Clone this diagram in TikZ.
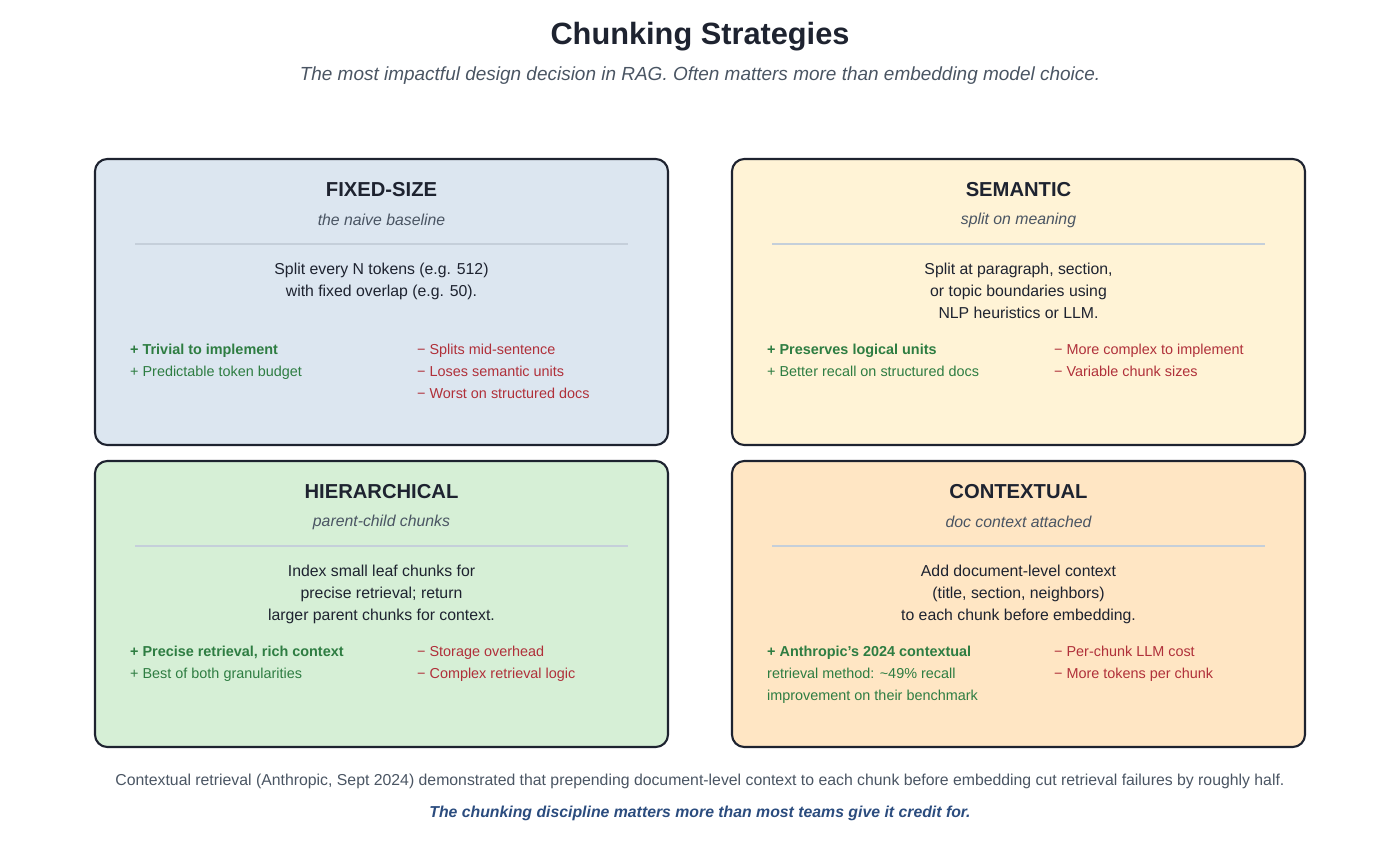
\documentclass[tikz,border=0pt]{standalone}
\usepackage{fontspec}
\setmainfont{Liberation Sans}
\usetikzlibrary{positioning}
\definecolor{ink}{HTML}{1E2330}
\definecolor{muted}{HTML}{4A5563}
\definecolor{rulec}{HTML}{C5CFDA}
\definecolor{fillfix}{HTML}{DCE6F0}
\definecolor{fillsem}{HTML}{FFF3D6}
\definecolor{fillhier}{HTML}{D6EFD6}
\definecolor{fillctx}{HTML}{FFE6C4}
\definecolor{procol}{HTML}{2E7D42}
\definecolor{concol}{HTML}{B0303A}
\definecolor{notecol}{HTML}{2B4C7E}
\tikzset{
	panel/.style={draw=ink, line width=1.2pt, rounded corners=7pt},
	panelhead/.style={font=\fontsize{11.5}{13}\selectfont\bfseries, text=ink},
	paneltag/.style={font=\fontsize{9}{11}\selectfont\itshape, text=muted},
	panelbody/.style={font=\fontsize{9}{12.5}\selectfont, text=ink, align=center, anchor=north},
	pro/.style={font=\fontsize{8.2}{12.5}\selectfont, text=procol, align=left, anchor=north west},
	con/.style={font=\fontsize{8.2}{12.5}\selectfont, text=concol, align=left, anchor=north west},
	seprule/.style={draw=rulec, line width=0.8pt}
}
\begin{document}
\begin{tikzpicture}[x=0.02cm, y=-0.02cm]
	\useasboundingbox (0,0) rectangle (1400,859);
	% Heading
	\node[font=\fontsize{17.5}{20}\selectfont\bfseries, text=ink] (title) at (700,37) {Chunking Strategies};
	\node[font=\fontsize{10.8}{13}\selectfont\itshape, text=muted] (subtitle) at (700,76) {The most impactful design decision in RAG. Often matters more than embedding model choice.};
	% Panels
	\draw[panel, fill=fillfix] (95,159) rectangle (668,445);
	\draw[panel, fill=fillsem] (732,159) rectangle (1305,445);
	\draw[panel, fill=fillhier] (95,461) rectangle (668,747);
	\draw[panel, fill=fillctx] (732,461) rectangle (1305,747);
	% Fixed-size
	\node[panelhead] (fixhead) at (381.5,190) {FIXED-SIZE};
	\node[paneltag] (fixtag) at (381.5,220) {the naive baseline};
	\draw[seprule] (135,244) -- (628,244);
	\node[panelbody] (fixbody) at (381.5,257) {Split every N tokens (e.g. 512)\\with fixed overlap (e.g. 50).};
	\node[pro] (fixpro) at (124,338) {\textbf{+ Trivial to implement}\\+ Predictable token budget};
	\node[con] (fixcon) at (411,338) {− Splits mid-sentence\\− Loses semantic units\\− Worst on structured docs};
	% Semantic
	\node[panelhead] (semhead) at (1018.5,190) {SEMANTIC};
	\node[paneltag] (semtag) at (1018.5,220) {split on meaning};
	\draw[seprule] (772,244) -- (1265,244);
	\node[panelbody] (sembody) at (1018.5,257) {Split at paragraph, section,\\or topic boundaries using\\NLP heuristics or LLM.};
	\node[pro] (sempro) at (761,338) {\textbf{+ Preserves logical units}\\+ Better recall on structured docs};
	\node[con] (semcon) at (1048,338) {− More complex to implement\\− Variable chunk sizes};
	% Hierarchical
	\node[panelhead] (hierhead) at (381.5,492) {HIERARCHICAL};
	\node[paneltag] (hiertag) at (381.5,522) {parent-child chunks};
	\draw[seprule] (135,546) -- (628,546);
	\node[panelbody] (hierbody) at (381.5,559) {Index small leaf chunks for\\precise retrieval; return\\larger parent chunks for context.};
	\node[pro] (hierpro) at (124,640) {\textbf{+ Precise retrieval, rich context}\\+ Best of both granularities};
	\node[con] (hiercon) at (411,640) {− Storage overhead\\− Complex retrieval logic};
	% Contextual
	\node[panelhead] (ctxhead) at (1018.5,492) {CONTEXTUAL};
	\node[paneltag] (ctxtag) at (1018.5,522) {doc context attached};
	\draw[seprule] (772,546) -- (1265,546);
	\node[panelbody] (ctxbody) at (1018.5,559) {Add document-level context\\(title, section, neighbors)\\to each chunk before embedding.};
	\node[pro] (ctxpro) at (761,640) {\textbf{+ Anthropic’s 2024 contextual}\\retrieval method: \textasciitilde49\% recall\\improvement on their benchmark};
	\node[con] (ctxcon) at (1048,640) {− Per-chunk LLM cost\\− More tokens per chunk};
	% Footer
	\node[font=\fontsize{9}{11}\selectfont, text=muted] (footnote) at (700,781) {Contextual retrieval (Anthropic, Sept 2024) demonstrated that prepending document-level context to each chunk before embedding cut retrieval failures by roughly half.};
	\node[font=\fontsize{9}{11}\selectfont\bfseries\itshape, text=notecol] (takeaway) at (700,813) {The chunking discipline matters more than most teams give it credit for.};
\end{tikzpicture}
\end{document}
